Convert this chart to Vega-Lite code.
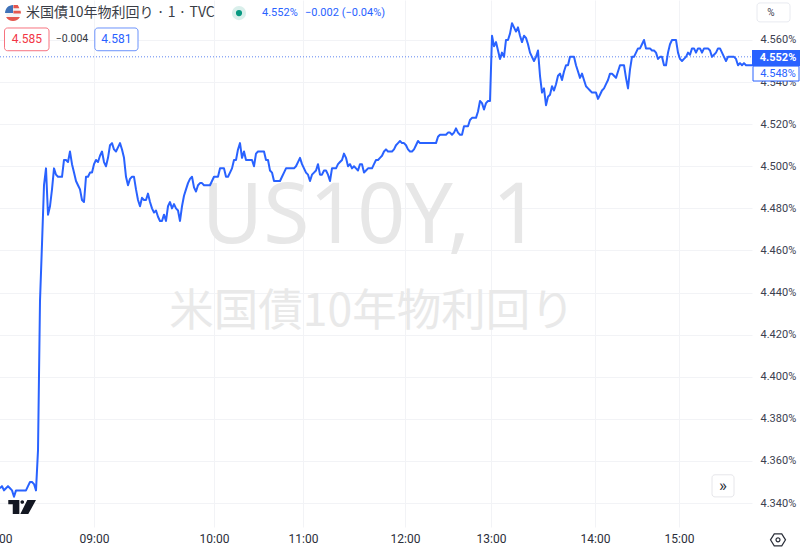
{"$schema":"https://vega.github.io/schema/vega-lite/v6.json","width":772,"height":527,"autosize":{"type":"none"},"padding":{"left":-20,"right":48,"top":0,"bottom":20},"background":"#ffffff","config":{"view":{"stroke":null}},
"encoding":{"x":{"field":"bar","type":"quantitative","scale":{"domain":[-10,376],"nice":false,"zero":false},"axis":{"title":null,"values":[-1.5,47,107,151.5,202.5,245.5,297.5,339.5],"labelExpr":"datum.value==-1.5?'08:00':datum.value==47?'09:00':datum.value==107?'10:00':datum.value==151.5?'11:00':datum.value==202.5?'12:00':datum.value==245.5?'13:00':datum.value==297.5?'14:00':'15:00'","grid":true,"gridColor":"#f2f3f6","gridWidth":1,"domain":false,"ticks":false,"labelFont":"Roboto","labelFontSize":12,"labelColor":"#2a2e39","labelPadding":6,"labelOverlap":false,"labelFlush":false,"labelBound":false}},
"y":{"field":"yield","type":"quantitative","scale":{"domain":[4.3286,4.579],"nice":false,"zero":false},"axis":{"orient":"right","title":null,"values":[4.34,4.36,4.38,4.40,4.42,4.44,4.46,4.48,4.50,4.52,4.54,4.56],"labelExpr":"format(datum.value,'.3f')+'%'","grid":true,"gridColor":"#f2f3f6","gridWidth":1,"domain":false,"ticks":false,"labelFont":"Roboto","labelFontSize":11,"labelColor":"#3c4150","labelPadding":8,"labelOverlap":false}}},
"layer":[
{"data":{"values":[{"bar":185.5,"yield":4.4754,"text":"US10Y, 1"}]},"mark":{"type":"text","font":"Noto Sans","fontSize":84,"color":"#e7e7e7","align":"center","baseline":"middle"},"encoding":{"text":{"field":"text"}}},
{"data":{"values":[{"bar":186,"yield":4.4303,"text":"米国債10年物利回り"}]},"mark":{"type":"text","font":"Noto Sans CJK JP","fontSize":44.5,"color":"#e9e9e9","align":"center","baseline":"middle"},"encoding":{"text":{"field":"text"}}},
{"data":{"values":[{"bar":0,"bar2":376,"yield":4.552}]},"mark":{"type":"rule","color":"#5f86f0","strokeWidth":1,"strokeDash":[1,2]},"encoding":{"x2":{"field":"bar2"}}},
{"data":{"values":[
{"bar":0,"yield":4.347},{"bar":1,"yield":4.348},{"bar":2,"yield":4.346},{"bar":3,"yield":4.347},{"bar":4,"yield":4.348},{"bar":5,"yield":4.347},{"bar":6,"yield":4.346},{"bar":7,"yield":4.343},{"bar":8,"yield":4.346},{"bar":9,"yield":4.346},{"bar":10,"yield":4.346},{"bar":11,"yield":4.346},{"bar":12,"yield":4.346},{"bar":13,"yield":4.346},{"bar":14,"yield":4.348},{"bar":15,"yield":4.35},{"bar":16,"yield":4.35},{"bar":17,"yield":4.349},{"bar":18,"yield":4.346},{"bar":19,"yield":4.365},{"bar":20,"yield":4.436},{"bar":21,"yield":4.463},{"bar":22,"yield":4.491},{"bar":23,"yield":4.499},{"bar":24,"yield":4.477},{"bar":25,"yield":4.481},{"bar":26,"yield":4.489},{"bar":27,"yield":4.499},{"bar":28,"yield":4.496},{"bar":29,"yield":4.495},{"bar":30,"yield":4.495},{"bar":31,"yield":4.495},{"bar":32,"yield":4.503},{"bar":33,"yield":4.503},{"bar":34,"yield":4.502},{"bar":35,"yield":4.507},{"bar":36,"yield":4.501},{"bar":37,"yield":4.497},{"bar":38,"yield":4.493},{"bar":39,"yield":4.491},{"bar":40,"yield":4.489},{"bar":41,"yield":4.484},{"bar":42,"yield":4.483},{"bar":43,"yield":4.495},{"bar":44,"yield":4.495},{"bar":45,"yield":4.497},{"bar":46,"yield":4.497},{"bar":47,"yield":4.501},{"bar":48,"yield":4.503},{"bar":49,"yield":4.502},{"bar":50,"yield":4.505},{"bar":51,"yield":4.507},{"bar":52,"yield":4.502},{"bar":53,"yield":4.5},{"bar":54,"yield":4.504},{"bar":55,"yield":4.51},{"bar":56,"yield":4.511},{"bar":57,"yield":4.508},{"bar":58,"yield":4.507},{"bar":59,"yield":4.509},{"bar":60,"yield":4.511},{"bar":61,"yield":4.508},{"bar":62,"yield":4.504},{"bar":63,"yield":4.495},{"bar":64,"yield":4.491},{"bar":65,"yield":4.494},{"bar":66,"yield":4.495},{"bar":67,"yield":4.495},{"bar":68,"yield":4.489},{"bar":69,"yield":4.484},{"bar":70,"yield":4.481},{"bar":71,"yield":4.485},{"bar":72,"yield":4.484},{"bar":73,"yield":4.484},{"bar":74,"yield":4.487},{"bar":75,"yield":4.483},{"bar":76,"yield":4.48},{"bar":77,"yield":4.478},{"bar":78,"yield":4.479},{"bar":79,"yield":4.476},{"bar":80,"yield":4.474},{"bar":81,"yield":4.474},{"bar":82,"yield":4.477},{"bar":83,"yield":4.474},{"bar":84,"yield":4.481},{"bar":85,"yield":4.483},{"bar":86,"yield":4.48},{"bar":87,"yield":4.482},{"bar":88,"yield":4.48},{"bar":89,"yield":4.479},{"bar":90,"yield":4.474},{"bar":91,"yield":4.481},{"bar":92,"yield":4.486},{"bar":93,"yield":4.489},{"bar":94,"yield":4.492},{"bar":95,"yield":4.494},{"bar":96,"yield":4.495},{"bar":97,"yield":4.49},{"bar":98,"yield":4.488},{"bar":99,"yield":4.491},{"bar":100,"yield":4.492},{"bar":101,"yield":4.492},{"bar":102,"yield":4.491},{"bar":103,"yield":4.491},{"bar":104,"yield":4.491},{"bar":105,"yield":4.491},{"bar":106,"yield":4.493},{"bar":107,"yield":4.495},{"bar":108,"yield":4.495},{"bar":109,"yield":4.495},{"bar":110,"yield":4.499},{"bar":111,"yield":4.499},{"bar":112,"yield":4.499},{"bar":113,"yield":4.495},{"bar":114,"yield":4.495},{"bar":115,"yield":4.497},{"bar":116,"yield":4.499},{"bar":117,"yield":4.503},{"bar":118,"yield":4.503},{"bar":119,"yield":4.508},{"bar":120,"yield":4.511},{"bar":121,"yield":4.504},{"bar":122,"yield":4.507},{"bar":123,"yield":4.503},{"bar":124,"yield":4.503},{"bar":125,"yield":4.503},{"bar":126,"yield":4.503},{"bar":127,"yield":4.5},{"bar":128,"yield":4.506},{"bar":129,"yield":4.507},{"bar":130,"yield":4.507},{"bar":131,"yield":4.507},{"bar":132,"yield":4.507},{"bar":133,"yield":4.503},{"bar":134,"yield":4.503},{"bar":135,"yield":4.498},{"bar":136,"yield":4.497},{"bar":137,"yield":4.493},{"bar":138,"yield":4.493},{"bar":139,"yield":4.493},{"bar":140,"yield":4.493},{"bar":141,"yield":4.495},{"bar":142,"yield":4.497},{"bar":143,"yield":4.499},{"bar":144,"yield":4.499},{"bar":145,"yield":4.499},{"bar":146,"yield":4.499},{"bar":147,"yield":4.499},{"bar":148,"yield":4.5},{"bar":149,"yield":4.502},{"bar":150,"yield":4.504},{"bar":151,"yield":4.501},{"bar":152,"yield":4.499},{"bar":153,"yield":4.497},{"bar":154,"yield":4.496},{"bar":155,"yield":4.493},{"bar":156,"yield":4.496},{"bar":157,"yield":4.497},{"bar":158,"yield":4.498},{"bar":159,"yield":4.501},{"bar":160,"yield":4.496},{"bar":161,"yield":4.496},{"bar":162,"yield":4.498},{"bar":163,"yield":4.498},{"bar":164,"yield":4.496},{"bar":165,"yield":4.493},{"bar":166,"yield":4.499},{"bar":167,"yield":4.499},{"bar":168,"yield":4.499},{"bar":169,"yield":4.501},{"bar":170,"yield":4.502},{"bar":171,"yield":4.503},{"bar":172,"yield":4.506},{"bar":173,"yield":4.504},{"bar":174,"yield":4.5},{"bar":175,"yield":4.501},{"bar":176,"yield":4.499},{"bar":177,"yield":4.5},{"bar":178,"yield":4.499},{"bar":179,"yield":4.498},{"bar":180,"yield":4.501},{"bar":181,"yield":4.501},{"bar":182,"yield":4.497},{"bar":183,"yield":4.498},{"bar":184,"yield":4.499},{"bar":185,"yield":4.499},{"bar":186,"yield":4.499},{"bar":187,"yield":4.501},{"bar":188,"yield":4.503},{"bar":189,"yield":4.503},{"bar":190,"yield":4.504},{"bar":191,"yield":4.505},{"bar":192,"yield":4.507},{"bar":193,"yield":4.508},{"bar":194,"yield":4.507},{"bar":195,"yield":4.507},{"bar":196,"yield":4.507},{"bar":197,"yield":4.508},{"bar":198,"yield":4.51},{"bar":199,"yield":4.511},{"bar":200,"yield":4.512},{"bar":201,"yield":4.511},{"bar":202,"yield":4.511},{"bar":203,"yield":4.51},{"bar":204,"yield":4.508},{"bar":205,"yield":4.507},{"bar":206,"yield":4.507},{"bar":207,"yield":4.508},{"bar":208,"yield":4.51},{"bar":209,"yield":4.512},{"bar":210,"yield":4.511},{"bar":211,"yield":4.511},{"bar":212,"yield":4.511},{"bar":213,"yield":4.511},{"bar":214,"yield":4.511},{"bar":215,"yield":4.511},{"bar":216,"yield":4.511},{"bar":217,"yield":4.511},{"bar":218,"yield":4.511},{"bar":219,"yield":4.514},{"bar":220,"yield":4.515},{"bar":221,"yield":4.515},{"bar":222,"yield":4.515},{"bar":223,"yield":4.515},{"bar":224,"yield":4.516},{"bar":225,"yield":4.516},{"bar":226,"yield":4.515},{"bar":227,"yield":4.516},{"bar":228,"yield":4.518},{"bar":229,"yield":4.516},{"bar":230,"yield":4.515},{"bar":231,"yield":4.515},{"bar":232,"yield":4.519},{"bar":233,"yield":4.519},{"bar":234,"yield":4.519},{"bar":235,"yield":4.522},{"bar":236,"yield":4.523},{"bar":237,"yield":4.523},{"bar":238,"yield":4.523},{"bar":239,"yield":4.526},{"bar":240,"yield":4.531},{"bar":241,"yield":4.53},{"bar":242,"yield":4.527},{"bar":243,"yield":4.53},{"bar":244,"yield":4.531},{"bar":245,"yield":4.531},{"bar":246,"yield":4.562},{"bar":247,"yield":4.557},{"bar":248,"yield":4.559},{"bar":249,"yield":4.555},{"bar":250,"yield":4.551},{"bar":251,"yield":4.554},{"bar":252,"yield":4.552},{"bar":253,"yield":4.56},{"bar":254,"yield":4.56},{"bar":255,"yield":4.563},{"bar":256,"yield":4.568},{"bar":257,"yield":4.566},{"bar":258,"yield":4.564},{"bar":259,"yield":4.566},{"bar":260,"yield":4.562},{"bar":261,"yield":4.559},{"bar":262,"yield":4.562},{"bar":263,"yield":4.561},{"bar":264,"yield":4.558},{"bar":265,"yield":4.554},{"bar":266,"yield":4.552},{"bar":267,"yield":4.55},{"bar":268,"yield":4.552},{"bar":269,"yield":4.555},{"bar":270,"yield":4.543},{"bar":271,"yield":4.535},{"bar":272,"yield":4.537},{"bar":273,"yield":4.529},{"bar":274,"yield":4.533},{"bar":275,"yield":4.534},{"bar":276,"yield":4.538},{"bar":277,"yield":4.536},{"bar":278,"yield":4.539},{"bar":279,"yield":4.543},{"bar":280,"yield":4.544},{"bar":281,"yield":4.541},{"bar":282,"yield":4.545},{"bar":283,"yield":4.548},{"bar":284,"yield":4.548},{"bar":285,"yield":4.552},{"bar":286,"yield":4.552},{"bar":287,"yield":4.552},{"bar":288,"yield":4.548},{"bar":289,"yield":4.545},{"bar":290,"yield":4.542},{"bar":291,"yield":4.544},{"bar":292,"yield":4.541},{"bar":293,"yield":4.538},{"bar":294,"yield":4.537},{"bar":295,"yield":4.536},{"bar":296,"yield":4.535},{"bar":297,"yield":4.535},{"bar":298,"yield":4.535},{"bar":299,"yield":4.532},{"bar":300,"yield":4.534},{"bar":301,"yield":4.536},{"bar":302,"yield":4.537},{"bar":303,"yield":4.539},{"bar":304,"yield":4.541},{"bar":305,"yield":4.544},{"bar":306,"yield":4.544},{"bar":307,"yield":4.543},{"bar":308,"yield":4.542},{"bar":309,"yield":4.545},{"bar":310,"yield":4.548},{"bar":311,"yield":4.548},{"bar":312,"yield":4.548},{"bar":313,"yield":4.542},{"bar":314,"yield":4.537},{"bar":315,"yield":4.546},{"bar":316,"yield":4.552},{"bar":317,"yield":4.552},{"bar":318,"yield":4.554},{"bar":319,"yield":4.556},{"bar":320,"yield":4.556},{"bar":321,"yield":4.558},{"bar":322,"yield":4.56},{"bar":323,"yield":4.556},{"bar":324,"yield":4.556},{"bar":325,"yield":4.556},{"bar":326,"yield":4.555},{"bar":327,"yield":4.555},{"bar":328,"yield":4.554},{"bar":329,"yield":4.551},{"bar":330,"yield":4.552},{"bar":331,"yield":4.552},{"bar":332,"yield":4.548},{"bar":333,"yield":4.548},{"bar":334,"yield":4.554},{"bar":335,"yield":4.558},{"bar":336,"yield":4.56},{"bar":337,"yield":4.56},{"bar":338,"yield":4.56},{"bar":339,"yield":4.554},{"bar":340,"yield":4.551},{"bar":341,"yield":4.55},{"bar":342,"yield":4.551},{"bar":343,"yield":4.552},{"bar":344,"yield":4.554},{"bar":345,"yield":4.553},{"bar":346,"yield":4.556},{"bar":347,"yield":4.556},{"bar":348,"yield":4.554},{"bar":349,"yield":4.556},{"bar":350,"yield":4.556},{"bar":351,"yield":4.554},{"bar":352,"yield":4.556},{"bar":353,"yield":4.556},{"bar":354,"yield":4.556},{"bar":355,"yield":4.555},{"bar":356,"yield":4.552},{"bar":357,"yield":4.553},{"bar":358,"yield":4.554},{"bar":359,"yield":4.556},{"bar":360,"yield":4.556},{"bar":361,"yield":4.554},{"bar":362,"yield":4.552},{"bar":363,"yield":4.55},{"bar":364,"yield":4.552},{"bar":365,"yield":4.552},{"bar":366,"yield":4.552},{"bar":367,"yield":4.552},{"bar":368,"yield":4.551},{"bar":369,"yield":4.548},{"bar":370,"yield":4.549},{"bar":371,"yield":4.548},{"bar":372,"yield":4.549},{"bar":373,"yield":4.548},{"bar":374,"yield":4.548},{"bar":375,"yield":4.548},{"bar":376,"yield":4.548}
]},"mark":{"type":"line","color":"#2962ff","strokeWidth":2,"strokeJoin":"round"}},
{"data":{"values":[{"bar":2.25,"bar2":24.5,"yield":4.5657,"yield2":4.5549}]},"mark":{"type":"rect","fill":"#ffffff","stroke":"#f7737f","strokeWidth":1,"cornerRadius":3},"encoding":{"x2":{"field":"bar2"},"y2":{"field":"yield2"}}},
{"data":{"values":[{"bar":47.4,"bar2":69,"yield":4.5657,"yield2":4.5549}]},"mark":{"type":"rect","fill":"#ffffff","stroke":"#6b92fb","strokeWidth":1,"cornerRadius":3},"encoding":{"x2":{"field":"bar2"},"y2":{"field":"yield2"}}},
{"data":{"values":[{"bar":378.5,"bar2":395,"yield":4.5776,"yield2":4.5686}]},"mark":{"type":"rect","fill":"#ffffff","stroke":"#e8eaf0","strokeWidth":1,"cornerRadius":3},"encoding":{"x2":{"field":"bar2"},"y2":{"field":"yield2"}}},
{"data":{"values":[{"bar":376,"bar2":400,"yield":4.5552,"yield2":4.5476}]},"mark":{"type":"rect","fill":"#2962ff","stroke":null},"encoding":{"x2":{"field":"bar2"},"y2":{"field":"yield2"}}},
{"data":{"values":[{"bar":376.5,"bar2":399.5,"yield":4.5476,"yield2":4.5405}]},"mark":{"type":"rect","fill":"#ffffff","stroke":"#2962ff","strokeWidth":1},"encoding":{"x2":{"field":"bar2"},"y2":{"field":"yield2"}}},
{"data":{"values":[{"bar":356,"bar2":367,"yield":4.3534,"yield2":4.3429}]},"mark":{"type":"rect","fill":"#ffffff","stroke":"#e6e6ea","strokeWidth":1,"cornerRadius":3},"encoding":{"x2":{"field":"bar2"},"y2":{"field":"yield2"}}},
{"data":{"values":[{"bar":13,"yield":4.5728,"text":"米国債10年物利回り · 1 · TVC"}]},"mark":{"type":"text","font":"Noto Sans CJK JP","fontSize":14,"color":"#3a3d46","align":"left","baseline":"middle"},"encoding":{"text":{"field":"text"}}},
{"data":{"values":[{"bar":131,"yield":4.5728,"text":"4.552%"},{"bar":152.5,"yield":4.5728,"text":"−0.002 (−0.04%)"}]},"mark":{"type":"text","font":"Roboto","fontSize":11,"color":"#2962ff","align":"left","baseline":"middle"},"encoding":{"text":{"field":"text"}}},
{"data":{"values":[{"bar":119.5,"yield":4.5728}]},"mark":{"type":"point","filled":true,"shape":"circle","size":201,"color":"#d9efeb","opacity":1}},
{"data":{"values":[{"bar":119.5,"yield":4.5728}]},"mark":{"type":"point","filled":true,"shape":"circle","size":38,"color":"#089981","opacity":1}},
{"data":{"values":[{"bar":13.4,"yield":4.5605,"text":"4.585"}]},"mark":{"type":"text","font":"Roboto","fontSize":12,"color":"#f23645","align":"center","baseline":"middle"},"encoding":{"text":{"field":"text"}}},
{"data":{"values":[{"bar":58.2,"yield":4.5605,"text":"4.581"}]},"mark":{"type":"text","font":"Roboto","fontSize":12,"color":"#2962ff","align":"center","baseline":"middle"},"encoding":{"text":{"field":"text"}}},
{"data":{"values":[{"bar":36,"yield":4.5605,"text":"−0.004"}]},"mark":{"type":"text","font":"Roboto","fontSize":10.5,"color":"#333741","align":"center","baseline":"middle"},"encoding":{"text":{"field":"text"}}},
{"data":{"values":[{"bar":385.5,"yield":4.5728,"text":"%"}]},"mark":{"type":"text","font":"Roboto","fontSize":10,"color":"#3c4150","align":"center","baseline":"middle"},"encoding":{"text":{"field":"text"}}},
{"data":{"values":[{"bar":389,"yield":4.5514,"text":"4.552%"}]},"mark":{"type":"text","font":"Roboto","fontSize":11,"fontWeight":"bold","color":"#ffffff","align":"center","baseline":"middle"},"encoding":{"text":{"field":"text"}}},
{"data":{"values":[{"bar":389,"yield":4.5438,"text":"4.548%"}]},"mark":{"type":"text","font":"Roboto","fontSize":11,"color":"#2962ff","align":"center","baseline":"middle"},"encoding":{"text":{"field":"text"}}},
{"data":{"values":[{"bar":361.5,"yield":4.3481,"text":"»"}]},"mark":{"type":"text","font":"Roboto","fontSize":17,"color":"#2a2e39","align":"center","baseline":"middle"},"encoding":{"text":{"field":"text"}}},
{"data":{"values":[{"bar":11,"yield":4.3381}]},"mark":{"type":"point","filled":true,"size":784,"opacity":1,"color":"#131722","shape":"M-0.98,-0.5 H-0.19 V0.5 H-0.66 V-0.19 H-0.98 Z M-0.11,-0.36 a0.13,0.13 0 1,0 0.26,0 a0.13,0.13 0 1,0 -0.26,0 Z M0.38,-0.5 H1 L0.45,0.5 H-0.12 Z"}},
{"data":{"values":[{"bar":389,"yield":4.3225}]},"mark":{"type":"point","filled":false,"size":225,"opacity":1,"stroke":"#2a2e39","strokeWidth":1.2,"shape":"M-1,0 L-0.5,-0.8 L0.5,-0.8 L1,0 L0.5,0.8 L-0.5,0.8 Z"}},
{"data":{"values":[{"bar":389,"yield":4.3225}]},"mark":{"type":"point","filled":false,"shape":"circle","size":16,"opacity":1,"stroke":"#2a2e39","strokeWidth":1.2}},
{"data":{"values":[{"bar":6.5,"yield":4.5728}]},"mark":{"type":"point","filled":true,"shape":"circle","size":201,"opacity":1,"color":"#f4f4f4"}},
{"data":{"values":[{"bar":6.5,"yield":4.5728}]},"mark":{"type":"point","filled":true,"size":256,"opacity":1,"color":"#e4574e","shape":"M-0.87,0.5 A1,1 0 0,0 0.87,0.5 Z M0.05,-1 H0.6 L0.8,-0.6 H0.05 Z M0.05,-0.3 H0.95 L1,0.05 H0.05 Z"}},
{"data":{"values":[{"bar":6.5,"yield":4.5728}]},"mark":{"type":"point","filled":true,"size":256,"opacity":1,"color":"#3f72b8","shape":"M-1,0 A1,1 0 0,1 0,-1 L0,0 Z"}}
]}
